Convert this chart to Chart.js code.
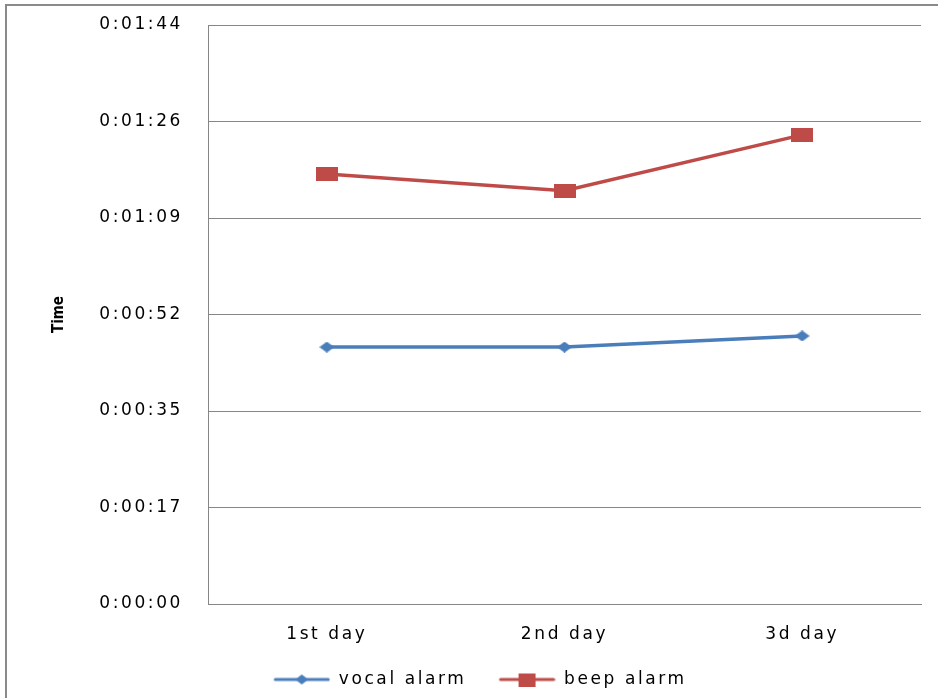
<!DOCTYPE html>
<html>
<head>
<meta charset="utf-8">
<script src="https://cdn.jsdelivr.net/npm/chart.js@4/dist/chart.umd.min.js"></script>
<style>
  html, body { margin: 0; padding: 0; background: #ffffff; }
  #wrap { width: 938px; height: 698px; position: relative; }
</style>
</head>
<body>
<div id="wrap"><canvas id="chart" width="938" height="698"></canvas></div>
<script>
// Categories and series (times in seconds)
const days = ['1st day', '2nd day', '3d day'];
const vocalAlarm = [46, 46, 48];
const beepAlarm = [77, 74, 84];
// Axis ticks: Excel-style time unit of 0.0002 days (17.28 s)
const yTickSeconds = [0, 17.28, 34.56, 51.84, 69.12, 86.4, 103.68];
const yAxisTitle = 'Time';

const BLUE = '#4A7EBB';
const RED = '#BE4B48';
const GRID = '#868686';
const FONT = "'DejaVu Sans', Verdana, sans-serif";
const SPACING = '2.6px';

function fmtTime(sec) {
  const s = Math.round(sec);
  const h = Math.floor(s / 3600);
  const m = Math.floor((s % 3600) / 60);
  const ss = s % 60;
  return h + ':' + String(m).padStart(2, '0') + ':' + String(ss).padStart(2, '0');
}

function makeRect(w, h, color) {
  const c = document.createElement('canvas');
  c.width = w; c.height = h;
  const g = c.getContext('2d');
  g.fillStyle = color;
  g.fillRect(0, 0, w, h);
  return c;
}

function makeDiamond(w, h, color) {
  const c = document.createElement('canvas');
  c.width = w; c.height = h;
  const g = c.getContext('2d');
  g.fillStyle = color;
  g.beginPath();
  g.moveTo(w / 2, 0);
  g.lineTo(w, h / 2);
  g.lineTo(w / 2, h);
  g.lineTo(0, h / 2);
  g.closePath();
  g.fill();
  return c;
}

// Legend icon: a short line segment with the marker in its middle,
// preceded by a small blank margin that separates the legend entries
function makeLegendIcon(color, marker) {
  const margin = 10, w = 67, h = 14;
  const c = document.createElement('canvas');
  c.width = w; c.height = h;
  const g = c.getContext('2d');
  g.strokeStyle = color;
  g.lineWidth = 3;
  g.lineCap = 'round';
  g.beginPath();
  g.moveTo(margin + 2, h / 2);
  g.lineTo(w - 2, h / 2);
  g.stroke();
  g.drawImage(marker, margin + (w - margin - marker.width) / 2, (h - marker.height) / 2);
  return c;
}

const blueMarker = makeDiamond(15, 11, BLUE);
const redMarker = makeRect(22, 14, RED);
const legendIcons = [
  makeLegendIcon(BLUE, makeDiamond(13, 10, BLUE)),
  makeLegendIcon(RED, makeRect(17, 13, RED))
];

// Wide letter spacing for the chart text
const spacingPlugin = {
  id: 'spacing',
  beforeUpdate(chart) { chart.ctx.letterSpacing = SPACING; },
  beforeLayout(chart) { chart.ctx.letterSpacing = SPACING; },
  beforeDraw(chart) { chart.ctx.letterSpacing = SPACING; }
};

// Outer frame lines along the top and left edges
const framePlugin = {
  id: 'frame',
  beforeDraw(chart) {
    const ctx = chart.ctx;
    ctx.save();
    ctx.fillStyle = '#8a8a8a';
    ctx.fillRect(5, 4, chart.width - 5, 2);
    ctx.fillRect(5, 4, 2, chart.height - 4);
    ctx.restore();
  }
};

// Compact bold y-axis title, centred on the plot area
const axisTitlePlugin = {
  id: 'axisTitle',
  afterDraw(chart) {
    const ctx = chart.ctx;
    const area = chart.chartArea;
    ctx.save();
    ctx.letterSpacing = '0px';
    ctx.font = "bold 15px 'DejaVu Sans Condensed', 'DejaVu Sans', sans-serif";
    ctx.fillStyle = '#000000';
    ctx.textAlign = 'center';
    ctx.textBaseline = 'middle';
    ctx.translate(59, (area.top + area.bottom) / 2);
    ctx.rotate(-Math.PI / 2);
    ctx.fillText(yAxisTitle, 0, 0);
    ctx.restore();
  }
};

new Chart(document.getElementById('chart'), {
  type: 'line',
  data: {
    labels: days,
    datasets: [
      {
        label: 'vocal alarm',
        data: vocalAlarm,
        borderColor: BLUE,
        backgroundColor: BLUE,
        borderWidth: 3.5,
        tension: 0,
        pointStyle: blueMarker,
        pointRadius: 6
      },
      {
        label: 'beep alarm',
        data: beepAlarm,
        borderColor: RED,
        backgroundColor: RED,
        borderWidth: 3.5,
        tension: 0,
        pointStyle: redMarker,
        pointRadius: 6
      }
    ]
  },
  options: {
    responsive: false,
    animation: false,
    events: [],
    layout: { padding: { left: 29, top: 25, right: 17, bottom: 0 } },
    plugins: {
      tooltip: { enabled: false },
      legend: {
        position: 'bottom',
        labels: {
          usePointStyle: true,
          pointStyleWidth: 67,
          padding: 22,
          color: '#000000',
          font: { family: FONT, size: 17 },
          generateLabels(chart) {
            return chart.data.datasets.map((ds, i) => ({
              text: ds.label,
              pointStyle: legendIcons[i],
              fillStyle: ds.borderColor,
              strokeStyle: 'transparent',
              lineWidth: 0,
              hidden: false,
              datasetIndex: i,
              fontColor: '#000000'
            }));
          }
        }
      }
    },
    scales: {
      x: {
        offset: true,
        grid: { display: false, drawTicks: false },
        border: { display: true, color: GRID, width: 1 },
        ticks: {
          padding: 20,
          color: '#000000',
          font: { family: FONT, size: 17 },
          maxRotation: 0,
          autoSkip: false
        },
        afterFit(scale) {
          const lh = scale.chart.legend ? scale.chart.legend.height : 0;
          scale.height = scale.chart.height - 604 - lh;
        }
      },
      y: {
        min: 0,
        max: 103.68,
        grid: { color: GRID, lineWidth: 1, drawTicks: false },
        border: { display: true, color: GRID, width: 1 },
        ticks: {
          padding: 25,
          color: '#000000',
          font: { family: FONT, size: 17 },
          callback: (v) => fmtTime(v)
        },
        afterBuildTicks(scale) {
          scale.ticks = yTickSeconds.map(v => ({ value: v }));
        },
        afterFit(scale) {
          scale.width = 179;
          scale.paddingTop = 0;
          scale.paddingBottom = 0;
        },
        title: { display: false }
      }
    }
  },
  plugins: [spacingPlugin, framePlugin, axisTitlePlugin]
});
</script>
</body>
</html>
